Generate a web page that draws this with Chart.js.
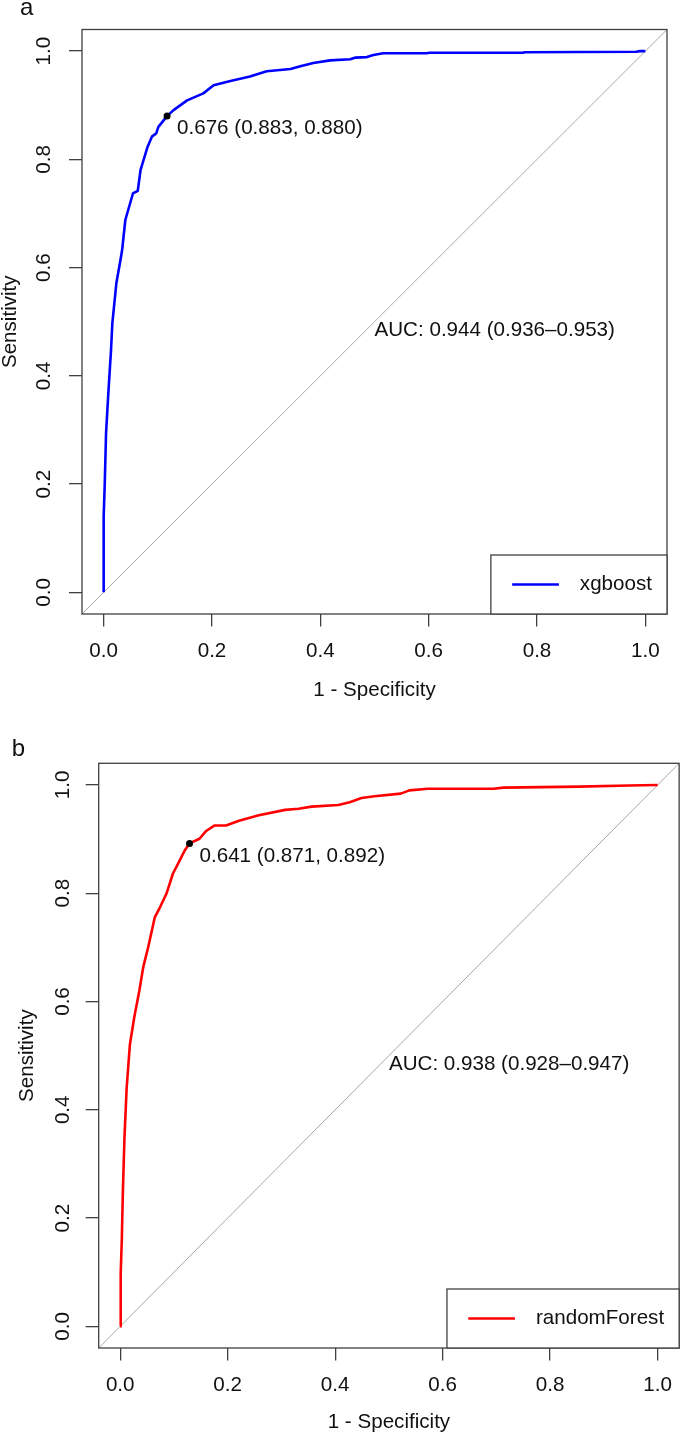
<!DOCTYPE html>
<html><head><meta charset="utf-8">
<script src="https://cdn.jsdelivr.net/npm/chart.js@4/dist/chart.umd.min.js"></script>
<style>
html,body{margin:0;padding:0;background:#fff;width:685px;height:1434px;overflow:hidden}
canvas{position:absolute;left:0}
#ca{top:0}
#cb{top:717px}
</style></head><body>
<canvas id="ca" width="685" height="717"></canvas>
<canvas id="cb" width="685" height="717"></canvas>
<script>
// ---- data ----
const tickValues = [0, 0.2, 0.4, 0.6, 0.8, 1.0];
const tickLabels = ['0.0', '0.2', '0.4', '0.6', '0.8', '1.0'];
const xTitle = '1 - Specificity';
const yTitle = 'Sensitivity';
const panelLetters = ['a', 'b'];
const seriesNames = ['xgboost', 'randomForest'];

const xgbFpr = [0, 0, 0.002, 0.0044, 0.009, 0.0136, 0.016, 0.0234, 0.031, 0.034, 0.040, 0.054, 0.063, 0.068, 0.081, 0.089, 0.097, 0.101, 0.117, 0.129, 0.154, 0.184, 0.203, 0.234, 0.270, 0.301, 0.345, 0.363, 0.387, 0.418, 0.455, 0.464, 0.486, 0.498, 0.516, 0.596, 0.602, 0.774, 0.777, 0.983, 0.990, 1.0];
const xgbTpr = [0, 0.14, 0.20, 0.294, 0.374, 0.448, 0.497, 0.571, 0.614, 0.632, 0.688, 0.737, 0.742, 0.780, 0.823, 0.842, 0.848, 0.860, 0.880, 0.891, 0.909, 0.922, 0.937, 0.945, 0.953, 0.963, 0.967, 0.972, 0.978, 0.983, 0.985, 0.988, 0.989, 0.993, 0.996, 0.996, 0.997, 0.997, 0.998, 0.999, 1.0, 1.0];

const rfFpr = [0, 0.001, 0.003, 0.005, 0.008, 0.012, 0.018, 0.026, 0.0356, 0.043, 0.052, 0.0645, 0.074, 0.086, 0.098, 0.111, 0.120, 0.129, 0.1475, 0.160, 0.175, 0.197, 0.221, 0.258, 0.307, 0.332, 0.356, 0.406, 0.427, 0.449, 0.473, 0.522, 0.538, 0.572, 0.695, 0.713, 0.854, 0.947, 1.0];
const rfTpr = [0, 0.10, 0.16, 0.25, 0.35, 0.44, 0.52, 0.57, 0.620, 0.664, 0.700, 0.756, 0.774, 0.799, 0.836, 0.861, 0.879, 0.892, 0.9006, 0.915, 0.925, 0.925, 0.934, 0.944, 0.954, 0.956, 0.960, 0.963, 0.968, 0.976, 0.979, 0.984, 0.990, 0.993, 0.993, 0.995, 0.997, 0.999, 1.0];

const xgbBest = [0.117, 0.880];
const rfBest = [0.129, 0.892];
const xgbBestLabel = '0.676 (0.883, 0.880)';
const rfBestLabel = '0.641 (0.871, 0.892)';
const xgbAucLabel = 'AUC: 0.944 (0.936\u20130.953)';
const rfAucLabel = 'AUC: 0.938 (0.928\u20130.947)';
const aucAnchor = [0.5, 0.5];
const diagX = [-0.04, 1.04];
const diagY = [-0.04, 1.04];

// ---- rendering ----
const FONT = '"Liberation Sans", Arial, sans-serif';
const FS = 20.6;
const TXT = '#111';
const LINE = '#404040';

function pts(xs, ys) { return xs.map((x, i) => ({x: x, y: ys[i]})); }

const decor = {
  id: 'decor',
  afterDraw(chart) {
    const o = chart.options.plugins.decor;
    const ctx = chart.ctx, ca = chart.chartArea;
    const xs = chart.scales.x, ys = chart.scales.y;
    ctx.save();
    // box
    ctx.strokeStyle = LINE; ctx.lineWidth = 1.3;
    ctx.strokeRect(ca.left, ca.top, ca.right - ca.left, ca.bottom - ca.top);
    ctx.fillStyle = TXT;
    ctx.font = FS + 'px ' + FONT;
    ctx.textBaseline = 'middle'; ctx.textAlign = 'left';
    // threshold label
    ctx.fillText(o.bestLabel, xs.getPixelForValue(o.best[0]) + 10, ys.getPixelForValue(o.best[1]) + 12.6);
    // AUC
    ctx.fillText(o.aucLabel, xs.getPixelForValue(aucAnchor[0]), ys.getPixelForValue(aucAnchor[1]) + 8.3);
    // legend
    const tw = ctx.measureText(o.name).width;
    const lw = 89 + tw + 15, lh = 59;
    const lx = ca.right - lw, ly = ca.bottom - lh;
    ctx.fillStyle = '#fff';
    ctx.fillRect(lx, ly, lw, lh);
    ctx.strokeStyle = LINE; ctx.lineWidth = 1.3;
    ctx.strokeRect(lx, ly, lw, lh);
    ctx.strokeStyle = o.color; ctx.lineWidth = 2.5;
    ctx.beginPath(); ctx.moveTo(lx + 21.3, ly + 29.5); ctx.lineTo(lx + 68, ly + 29.5); ctx.stroke();
    ctx.fillStyle = TXT;
    ctx.fillText(o.name, lx + 89, ly + 29.5);
    // panel letter
    ctx.font = '24px ' + FONT;
    ctx.textBaseline = 'alphabetic';
    ctx.fillText(o.letter, o.letterX, o.letterY);
    ctx.restore();
  }
};

function makeChart(id, c) {
  return new Chart(document.getElementById(id), {
    type: 'scatter',
    data: {
      datasets: [
        {label: 'best', data: [{x: c.best[0], y: c.best[1]}], pointRadius: 3.5, pointBackgroundColor: '#000', pointBorderWidth: 0, showLine: false},
        {label: c.name, data: pts(c.fpr, c.tpr), showLine: true, borderColor: c.color, borderWidth: 2.6, pointRadius: 0, tension: 0, borderJoinStyle: 'round'},
        {label: 'diag', data: pts(diagX, diagY), showLine: true, borderColor: '#A8A8A8', borderWidth: 1, pointRadius: 0}
      ]
    },
    options: {
      responsive: false, animation: false, devicePixelRatio: 1, events: [],
      layout: {padding: c.pad},
      plugins: {
        legend: {display: false}, tooltip: {enabled: false},
        decor: {best: c.best, bestLabel: c.bestLabel, aucLabel: c.aucLabel, name: c.name, color: c.color, letter: c.letter, letterX: c.letterX, letterY: c.letterY}
      },
      scales: {
        x: {
          type: 'linear', position: 'bottom', min: -0.04, max: 1.04,
          afterBuildTicks: s => { s.ticks = tickValues.map(v => ({value: v})); },
          afterFit: s => { s.height = c.xH; },
          border: {display: false},
          grid: {drawOnChartArea: false, drawTicks: true, tickLength: 12.5, color: LINE, lineWidth: 1.3},
          ticks: {autoSkip: false, maxRotation: 0, padding: c.xTickPad, color: TXT, font: {family: FONT, size: FS},
            callback: (v, i) => tickLabels[i]},
          title: {display: true, text: xTitle, color: TXT, font: {family: FONT, size: FS, lineHeight: 1}, padding: {top: 0, bottom: c.xTitlePad}}
        },
        y: {
          type: 'linear', position: 'left', min: -0.04, max: 1.04,
          afterBuildTicks: s => { s.ticks = tickValues.map(v => ({value: v})); },
          afterFit: s => { s.width = c.yW; },
          border: {display: false},
          grid: {drawOnChartArea: false, drawTicks: true, tickLength: 13, color: LINE, lineWidth: 1.3},
          ticks: {autoSkip: false, minRotation: 90, maxRotation: 90, crossAlign: 'center', padding: c.yTickPad, color: TXT, font: {family: FONT, size: FS},
            callback: (v, i) => tickLabels[i]},
          title: {display: true, text: yTitle, color: TXT, font: {family: FONT, size: FS, lineHeight: 1}, padding: {top: c.yTitlePad, bottom: 0}}
        }
      }
    },
    plugins: [decor]
  });
}

makeChart('ca', {
  fpr: xgbFpr, tpr: xgbTpr, best: xgbBest, bestLabel: xgbBestLabel, aucLabel: xgbAucLabel,
  name: seriesNames[0], color: '#0000FF', letter: panelLetters[0], letterX: 20, letterY: 15,
  pad: {left: 0, top: 29.5, right: 18, bottom: 0}, xH: 103, yW: 82,
  xTickPad: 12.2, xTitlePad: 16.5, yTickPad: 10, yTitlePad: 0
});
makeChart('cb', {
  fpr: rfFpr, tpr: rfTpr, best: rfBest, bestLabel: rfBestLabel, aucLabel: rfAucLabel,
  name: seriesNames[1], color: '#FF0000', letter: panelLetters[1], letterX: 11.7, letterY: 39,
  pad: {left: 0, top: 46.3, right: 1.7, bottom: 0}, xH: 86, yW: 98.7,
  xTickPad: 12.9, xTitlePad: 1.5, yTickPad: 8.3, yTitlePad: 17.5
});
</script>
</body></html>
